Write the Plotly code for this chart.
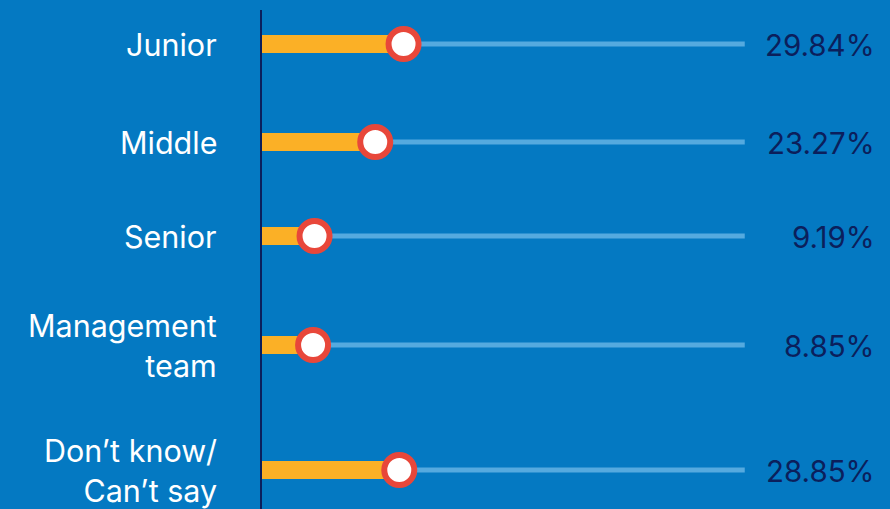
import plotly.graph_objects as go

categories = ["Junior", "Middle", "Senior", "Management<br>team", "Don\u2019t know/<br>Can\u2019t say"]
values = [29.84, 23.27, 9.19, 8.85, 28.85]
value_labels = ["29.84%", "23.27%", "9.19%", "8.85%", "28.85%"]

# layout: row centre positions (pixel-like units on the y axis)
row_pos = [44, 142, 236, 345, 470]
axis_start = -3.0
track_end = 109.0

BG = "#0479C2"
NAVY = "#0B1F5C"
ORANGE = "#FBB026"
RED = "#E8473A"
TRACK = "#55AADF"
FONT = "Inter"

fig = go.Figure()

# tracks
for y in row_pos:
    fig.add_trace(go.Scatter(x=[axis_start, track_end], y=[y, y], mode="lines",
                             line=dict(color=TRACK, width=5), hoverinfo="skip", showlegend=False))

# orange bars
for v, y in zip(values, row_pos):
    fig.add_trace(go.Scatter(x=[axis_start, v], y=[y, y], mode="lines",
                             line=dict(color=ORANGE, width=18), hoverinfo="skip", showlegend=False))

# markers
fig.add_trace(go.Scatter(x=values, y=row_pos, mode="markers",
                         marker=dict(size=30, color="white", line=dict(color=RED, width=6)),
                         showlegend=False, hoverinfo="skip"))

annotations = []
for cat, y in zip(categories, row_pos):
    annotations.append(dict(x=0, xref="paper", y=y, yref="y", text=cat, showarrow=False,
                            xanchor="right", yanchor="middle", xshift=-43, yshift=0,
                            align="right",
                            font=dict(family=FONT, size=30.5, color="white")))
for lab, y in zip(value_labels, row_pos):
    annotations.append(dict(x=1, xref="paper", y=y, yref="y", text=lab, showarrow=False,
                            xanchor="right", yanchor="middle", xshift=-13, yshift=-1,
                            font=dict(family=FONT, size=29.5, color=NAVY)))

fig.update_layout(
    width=890, height=509,
    margin=dict(l=262, r=0, t=10, b=0),
    paper_bgcolor=BG, plot_bgcolor=BG,
    xaxis=dict(range=[axis_start, 142.7], showgrid=False, zeroline=False,
               showticklabels=False, showline=False, fixedrange=True),
    yaxis=dict(range=[509, 10], showgrid=False, zeroline=False, showticklabels=False,
               showline=True, linecolor=NAVY, linewidth=2, fixedrange=True),
    annotations=annotations,
)

fig.write_html("out.html", config={"displayModeBar": False},
               post_script="document.body.style.margin='0';document.body.style.background='%s';" % BG)
